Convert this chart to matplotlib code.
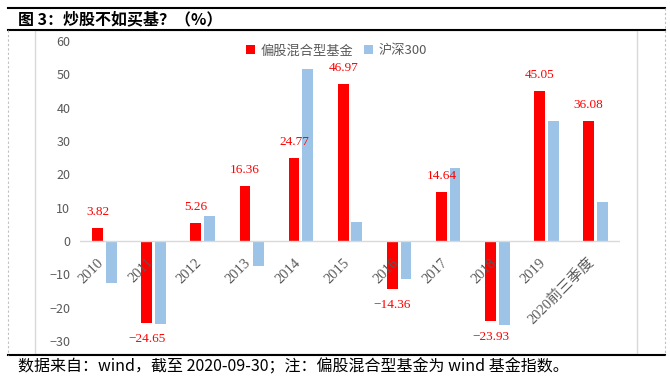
import matplotlib
matplotlib.use('Agg')
import matplotlib.pyplot as plt
from matplotlib.lines import Line2D
from matplotlib.patches import Rectangle
import numpy as np

plt.rcParams['font.family'] = ['Noto Sans CJK SC', 'DejaVu Sans']

# data
categories = ['2010', '2011', '2012', '2013', '2014', '2015', '2016', '2017', '2018', '2019', '2020前三季度']
fund = [3.82, -24.65, 5.26, 16.36, 24.77, 46.97, -14.36, 14.64, -23.93, 45.05, 36.08]
hs300 = [-12.5, -25.0, 7.5, -7.6, 51.7, 5.6, -11.3, 21.8, -25.3, 36.1, 11.8]
series_names = ['偏股混合型基金', '沪深300']

W, H = 670, 384
fig = plt.figure(figsize=(W / 100, H / 100), dpi=100)

def fx(px):
    return px / W

def fy(py):
    return 1 - py / H

# frame lines
fig.add_artist(Line2D([fx(8), fx(665)], [fy(8), fy(8)], color='black', lw=1.5))
fig.add_artist(Line2D([fx(8), fx(665)], [fy(30), fy(30)], color='black', lw=1.5))
fig.add_artist(Line2D([fx(8), fx(665)], [fy(355), fy(355)], color='black', lw=1.5))
fig.add_artist(Line2D([fx(8), fx(8)], [fy(30), fy(355)], color='#BFBFBF', lw=0.8, ls=(0, (2, 2))))
fig.add_artist(Line2D([fx(665), fx(665)], [fy(8), fy(355)], color='#BFBFBF', lw=0.8, ls=(0, (2, 2))))
fig.add_artist(Rectangle((fx(35), fy(354)), fx(637) - fx(35), fy(30) - fy(354),
                         fill=False, edgecolor='#D9D9D9', lw=1))

fig.text(fx(18), fy(19), '图 3：炒股不如买基？（%）', fontsize=11.5, fontweight='bold',
         va='center', ha='left', color='black')
fig.text(fx(18), fy(367), '数据来自：wind，截至 2020-09-30；注：偏股混合型基金为 wind 基金指数。',
         fontsize=11.5, va='center', ha='left', color='black')

ax = fig.add_axes([fx(80), fy(341), fx(620) - fx(80), fy(41) - fy(341)])
x = np.arange(len(categories))
bw = 0.22
gap = 0.06
ax.bar(x - (bw + gap) / 2, fund, width=bw, color='#FF0000', label=series_names[0])
ax.bar(x + (bw + gap) / 2, hs300, width=bw, color='#9DC3E6', label=series_names[1])

ax.set_xlim(-0.5, len(categories) - 0.5)
ax.set_ylim(-30, 60)
ax.set_yticks(range(-30, 61, 10))
ax.set_yticklabels([str(t).replace('-', '−') for t in range(-30, 61, 10)])
ax.tick_params(axis='y', length=0, labelsize=9, labelcolor='#595959', pad=7)
ax.set_xticks([])
for s in ax.spines.values():
    s.set_visible(False)
ax.axhline(0, color='#D9D9D9', lw=1)

for i, v in enumerate(fund):
    ax.annotate(f'{v:.2f}'.replace('-', '−'), (x[i] - (bw + gap) / 2, v),
                xytext=(0, 11.5 if v > 0 else -11.5),
                textcoords='offset points', ha='center', va='center', color='#FF0000',
                fontsize=9.5, family='Liberation Serif')

for i, c in enumerate(categories):
    ax.text(x[i] - 0.15, -4.5, c, rotation=45, ha='right', va='top', rotation_mode='anchor',
            fontsize=10.5, color='#595959', family=['Liberation Serif', 'Noto Sans CJK SC'])

ax.legend(loc='center', bbox_to_anchor=(0.475, 0.967), ncol=2, frameon=False,
          fontsize=9.5, labelcolor='#595959', handlelength=0.7, handleheight=0.7,
          handletextpad=0.4, columnspacing=0.8)

fig.savefig('out.png', dpi=100)
